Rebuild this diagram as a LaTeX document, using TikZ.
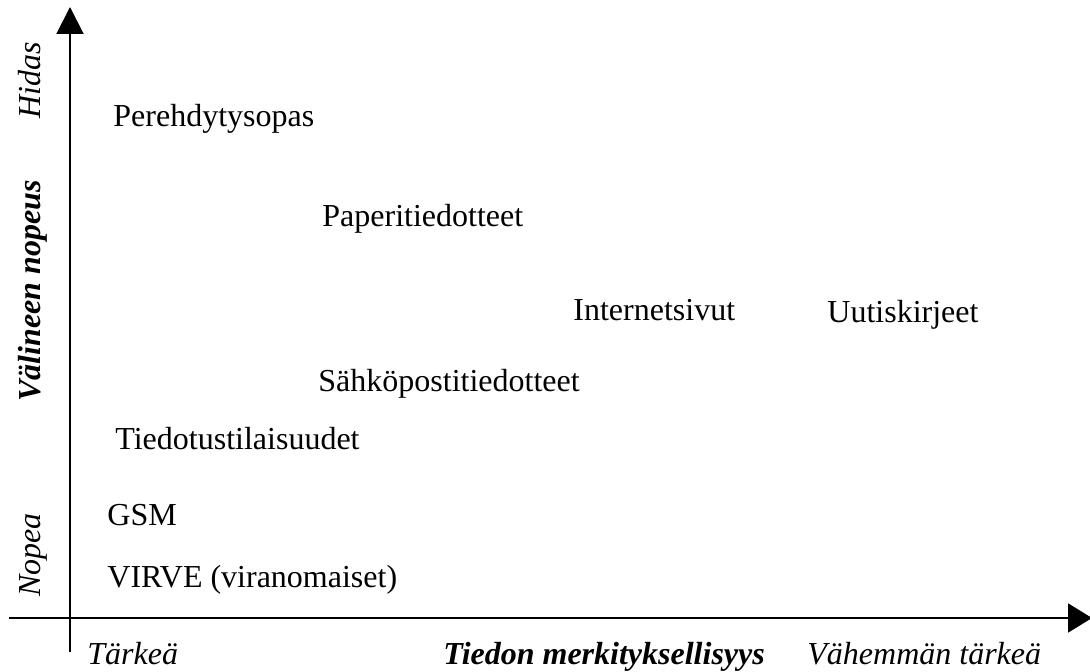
\documentclass[tikz,border=0pt]{standalone}
\usepackage{fontspec}
\setmainfont{Liberation Serif}
\usetikzlibrary{arrows.meta, positioning}

\begin{document}
\begin{tikzpicture}[x=0.5pt, y=-0.5pt,
  kanava/.style={anchor=base west, inner sep=0pt, font=\fontsize{16}{19}\selectfont},
  akseliteksti/.style={anchor=base west, inner sep=0pt, font=\fontsize{16}{19}\selectfont\itshape},
  pystyteksti/.style={rotate=90, anchor=base, inner sep=0pt, font=\fontsize{16}{19}\selectfont\itshape},
  akseli/.style={line width=1pt}]
\useasboundingbox (0,0) rectangle (1090,672);

% axes
\coordinate (ala) at (70,652);
\coordinate (yla) at (70,7);
\coordinate (vasen) at (9,618);
\coordinate (oikea) at (1092,618);
\draw[akseli, -{Triangle[length=13.5pt, width=13.5pt]}] (ala) -- (yla);
\draw[akseli, -{Triangle[length=12pt, width=14.5pt]}] (vasen) -- (oikea);

% vertical axis labels
\node[pystyteksti] (hidas) at (40,80) {Hidas};
\node[pystyteksti, font=\fontsize{16}{19}\selectfont\bfseries\itshape] (nopeus) at (40,291) {Välineen nopeus};
\node[pystyteksti] (nopea) at (40,555) {Nopea};

% horizontal axis labels
\node[akseliteksti] (tarkea) at (87,664) {Tärkeä};
\node[akseliteksti, font=\fontsize{16}{19}\selectfont\bfseries\itshape] (merkitys) at (443,664) {Tiedon merkityksellisyys};
\node[akseliteksti] (vahemman) at (807,664) {Vähemmän tärkeä};

% channels
\node[kanava] (perehdytys) at (113,127) {Perehdytysopas};
\node[kanava] (paperi) at (322,227) {Paperitiedotteet};
\node[kanava] (internet) at (573,321) {Internetsivut};
\node[kanava] (uutiskirje) at (827,323) {Uutiskirjeet};
\node[kanava] (sahkoposti) at (318,392) {Sähköpostitiedotteet};
\node[kanava] (tilaisuus) at (115,450) {Tiedotustilaisuudet};
\node[kanava] (gsm) at (107,525) {GSM};
\node[kanava] (virve) at (107,587) {VIRVE (viranomaiset)};
\end{tikzpicture}
\end{document}
